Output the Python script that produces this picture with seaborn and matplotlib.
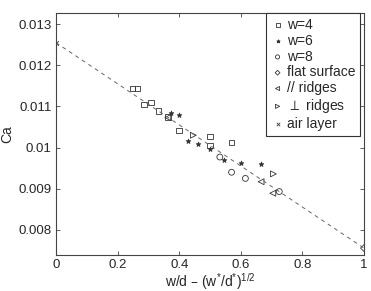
import pandas as pd
import matplotlib
matplotlib.use("Agg")
import matplotlib.pyplot as plt
import seaborn as sns

# data
w4_x = [0.249, 0.265, 0.286, 0.308, 0.333, 0.363, 0.399, 0.500, 0.500, 0.570]
w4_y = [0.01144, 0.01144, 0.01105, 0.01110, 0.01089, 0.01075, 0.01041, 0.01027, 0.01005, 0.01012]

w6_x = [0.374, 0.400, 0.430, 0.462, 0.500, 0.545, 0.600, 0.666]
w6_y = [0.01084, 0.01078, 0.01015, 0.01009, 0.00996, 0.00971, 0.00963, 0.00961]

w8_x = [0.532, 0.570, 0.615, 0.725]
w8_y = [0.00977, 0.00940, 0.00925, 0.00893]

flat_x = [1.0]
flat_y = [0.007556]

par_x = [0.363, 0.666, 0.704]
par_y = [0.01073, 0.00917, 0.00889]

perp_x = [0.446, 0.706]
perp_y = [0.01030, 0.00936]

air_x = [0.0]
air_y = [0.01255]

fit_x = [0.0, 1.0]
fit_y = [0.01255, 0.007556]

sns.set_style("ticks")
plt.rcParams['font.family'] = ['Liberation Sans', 'DejaVu Sans']
plt.rcParams['mathtext.default'] = 'regular'
plt.rcParams['xtick.direction'] = 'in'
plt.rcParams['ytick.direction'] = 'in'

fig = plt.figure(figsize=(3.71, 2.91), dpi=100)
ax = fig.add_axes([0.151, 0.124, 0.830, 0.831])

edge = '#333333'
sns.lineplot(x=fit_x, y=fit_y, ax=ax, color='#666666', linewidth=0.7,
             dashes=False, linestyle=(0, (4, 4)), legend=False)

groups = [
    (w4_x, w4_y, 's', 'w=4', 'none', 16),
    (w6_x, w6_y, '*', 'w=6', edge, 12),
    (w8_x, w8_y, 'o', 'w=8', 'none', 18),
    (flat_x, flat_y, 'D', 'flat surface', 'none', 12),
    (par_x, par_y, '<', '// ridges', 'none', 18),
    (perp_x, perp_y, '>', r'$\perp$ ridges', 'none', 18),
    (air_x, air_y, 'x', 'air layer', edge, 12),
]
for gx, gy, m, lab, fc, s in groups:
    df = pd.DataFrame({'x': gx, 'y': gy})
    sns.scatterplot(data=df, x='x', y='y', ax=ax, marker=m, label=lab,
                    facecolor=fc, edgecolor=edge, linewidth=0.6, s=s)

ax.set_xlim(0, 1)
ax.set_ylim(0.00739, 0.01327)
ax.set_xticks([0, 0.2, 0.4, 0.6, 0.8, 1])
ax.set_xticklabels(['0', '0.2', '0.4', '0.6', '0.8', '1'])
ax.set_yticks([0.008, 0.009, 0.01, 0.011, 0.012, 0.013])
ax.set_yticklabels(['0.008', '0.009', '0.01', '0.011', '0.012', '0.013'])
ax.tick_params(labelsize=9.5, length=3, width=0.6, color='#444444',
               top=True, right=True, pad=3)
for sp in ax.spines.values():
    sp.set_color('#444444')
    sp.set_linewidth(0.8)

ax.set_xlabel(r'w/d – (w$^{*}$/d$^{*}$)$^{1/2}$', fontsize=10, labelpad=0)
ax.set_ylabel('Ca', fontsize=10, labelpad=3)

leg = ax.legend(loc='upper right', bbox_to_anchor=(0.987, 1.0), fontsize=10,
                frameon=True, fancybox=False, edgecolor='#333333', framealpha=1,
                borderaxespad=0, handlelength=1.0, handletextpad=0.15,
                labelspacing=0.13, borderpad=0.35, markerscale=0.7)
leg.get_frame().set_linewidth(0.8)

plt.savefig('out.png', dpi=100)
